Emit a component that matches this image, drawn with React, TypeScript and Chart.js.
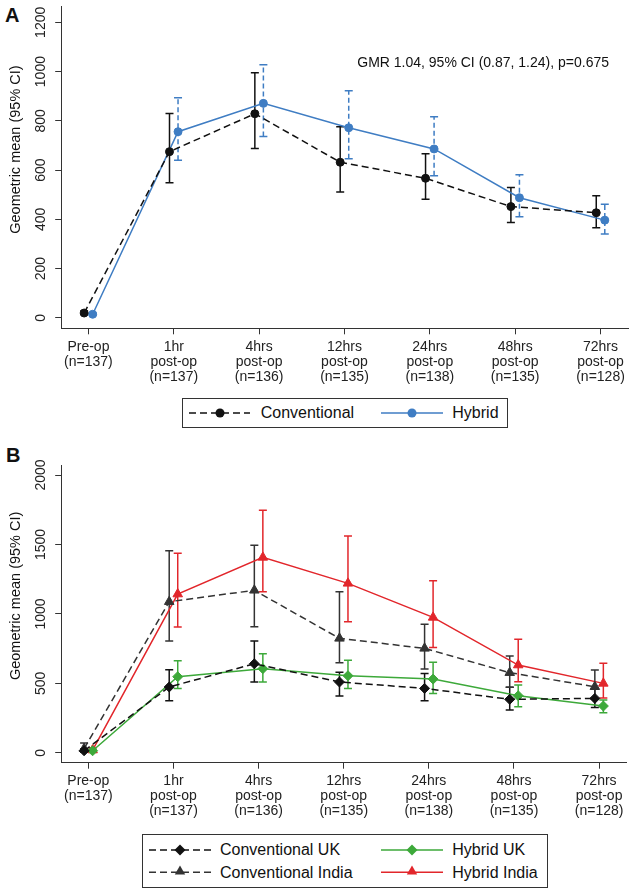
import React, { useEffect, useRef } from 'react';
import { Chart, registerables } from 'chart.js';

Chart.register(...registerables);

const FONT = '"Liberation Sans", Arial, Helvetica, sans-serif';

// time points (x axis)
const timeLabels = [
  ['Pre-op', '(n=137)'],
  ['1hr', 'post-op', '(n=137)'],
  ['4hrs', 'post-op', '(n=136)'],
  ['12hrs', 'post-op', '(n=135)'],
  ['24hrs', 'post-op', '(n=138)'],
  ['48hrs', 'post-op', '(n=135)'],
  ['72hrs', 'post-op', '(n=128)'],
];

const yTicksA = [0, 200, 400, 600, 800, 1000, 1200];
const yTicksB = [0, 500, 1000, 1500, 2000];

// panel A
const convMean = [20, 675, 829, 632, 567, 452, 427];
const convLow = [15, 549, 688, 511, 482, 387, 366];
const convHigh = [28, 830, 995, 776, 667, 530, 496];
const hybMean = [15, 756, 871, 772, 686, 488, 397];
const hybLow = [11, 640, 737, 646, 577, 411, 341];
const hybHigh = [20, 894, 1028, 922, 817, 581, 462];

// panel B
const convUkMean = [15, 474, 641, 510, 464, 385, 392];
const convUkLow = [5, 375, 510, 409, 375, 308, 327];
const convUkHigh = [30, 598, 805, 580, 572, 472, 460];
const convInMean = [30, 1088, 1170, 824, 752, 577, 476];
const convInLow = [5, 805, 908, 649, 603, 472, 385];
const convInHigh = [70, 1455, 1494, 1160, 925, 697, 596];
const hybUkMean = [15, 548, 606, 555, 531, 411, 337];
const hybUkLow = [8, 464, 510, 464, 428, 332, 289];
const hybUkHigh = [25, 663, 714, 666, 652, 488, 380];
const hybInMean = [20, 1143, 1407, 1220, 975, 632, 500];
const hybInLow = [10, 906, 1160, 944, 759, 512, 395];
const hybInHigh = [35, 1436, 1746, 1561, 1239, 817, 644];

const BLUE = '#3f7dc3';
const GREEN = '#3da93a';
const RED = '#e2262b';
const DARK = '#333333';

const errorBars = {
  id: 'errorBars',
  beforeDatasetsDraw(chart: any) {
    const { ctx } = chart;
    const y = chart.scales.y;
    chart.data.datasets.forEach((ds: any, di: number) => {
      if (!ds.errLo) return;
      const meta = chart.getDatasetMeta(di);
      ctx.save();
      ctx.strokeStyle = ds.borderColor;
      ctx.lineWidth = 1.5;
      meta.data.forEach((pt: any, i: number) => {
        const top = y.getPixelForValue(ds.errHi[i]);
        const bot = y.getPixelForValue(ds.errLo[i]);
        ctx.setLineDash(ds.errDash || []);
        ctx.beginPath();
        ctx.moveTo(pt.x, bot);
        ctx.lineTo(pt.x, top);
        ctx.stroke();
        ctx.setLineDash([]);
        ctx.beginPath();
        ctx.moveTo(pt.x - 4, top);
        ctx.lineTo(pt.x + 4, top);
        ctx.moveTo(pt.x - 4, bot);
        ctx.lineTo(pt.x + 4, bot);
        ctx.stroke();
      });
      ctx.restore();
    });
  },
};

const annotations = {
  id: 'annotations',
  afterDraw(chart: any, _args: any, opts: any) {
    const { ctx, chartArea } = chart;
    ctx.save();
    ctx.fillStyle = '#111';
    ctx.font = `14.5px ${FONT}`;
    ctx.textAlign = 'center';
    ctx.textBaseline = 'middle';
    ctx.translate(15.5, (chartArea.top + chartArea.bottom) / 2 - 18);
    ctx.rotate(-Math.PI / 2);
    ctx.fillText(opts.yTitle, 0, 0);
    ctx.restore();
    if (opts.note) {
      ctx.save();
      ctx.fillStyle = '#111';
      ctx.font = `14px ${FONT}`;
      ctx.textAlign = 'right';
      ctx.textBaseline = 'middle';
      ctx.fillText(opts.note, chartArea.right - 19, chartArea.top + 56);
      ctx.restore();
    }
  },
};

function series(
  label: string,
  mean: number[],
  lo: number[],
  hi: number[],
  shift: number,
  color: string,
  dashed: boolean,
  pointStyle: string,
  radius: number,
  errDash?: number[],
) {
  return {
    label,
    data: mean.map((v, i) => ({ x: i + shift, y: v })),
    errLo: lo,
    errHi: hi,
    errDash,
    borderColor: color,
    backgroundColor: color,
    borderWidth: 1.5,
    borderDash: dashed ? [7, 4] : [],
    pointStyle,
    pointRadius: radius,
    pointBorderWidth: 1,
    pointBorderColor: color,
    pointBackgroundColor: color,
    tension: 0,
  };
}

function makeOptions(yMin: number, yMax: number, yTicks: number[], xHeight: number, note?: string): any {
  return {
    animation: false,
    responsive: true,
    maintainAspectRatio: false,
    layout: { padding: { top: xHeight > 64 ? 25 : 6.7, right: 4, left: 0, bottom: 0 } },
    plugins: {
      legend: { display: false },
      tooltip: { enabled: false },
      annotations: { yTitle: 'Geometric mean (95% CI)', note },
    },
    scales: {
      x: {
        type: 'linear',
        min: -0.313,
        max: 6.322,
        afterBuildTicks: (s: any) => {
          s.ticks = timeLabels.map((_, i) => ({ value: i }));
        },
        afterFit: (s: any) => {
          s.height = xHeight;
        },
        ticks: {
          autoSkip: false,
          maxRotation: 0,
          padding: 5,
          color: '#222',
          font: { family: FONT, size: 14, lineHeight: 1.07 },
          callback: (v: number) => timeLabels[Math.round(v)] ?? '',
        },
        grid: { drawOnChartArea: false, drawTicks: true, tickLength: 6, color: '#333' },
        border: { display: true, color: '#333', width: 1 },
      },
      y: {
        type: 'linear',
        min: yMin,
        max: yMax,
        afterBuildTicks: (s: any) => {
          s.ticks = yTicks.map((v) => ({ value: v }));
        },
        afterFit: (s: any) => {
          s.width = 61.7;
        },
        ticks: {
          autoSkip: false,
          minRotation: 90,
          maxRotation: 90,
          crossAlign: 'center',
          padding: -1.6,
          color: '#222',
          font: { family: FONT, size: 14 },
          callback: (v: number) => String(v),
        },
        grid: { drawOnChartArea: false, drawTicks: true, tickLength: 6.5, color: '#333' },
        border: { display: true, color: '#333', width: 1 },
      },
    },
  };
}

function ChartCanvas({ build }: { build: () => any }) {
  const canvasRef = useRef<HTMLCanvasElement>(null);
  const chartRef = useRef<Chart | null>(null);

  useEffect(() => {
    if (!canvasRef.current) return;
    if (chartRef.current) chartRef.current.destroy();
    chartRef.current = new Chart(canvasRef.current, build());
    return () => chartRef.current?.destroy();
  }, [build]);

  return <canvas ref={canvasRef}></canvas>;
}

const buildA = () => ({
  type: 'line',
  data: {
    datasets: [
      series('Conventional', convMean, convLow, convHigh, -0.05, '#111', true, 'circle', 4),
      series('Hybrid', hybMean, hybLow, hybHigh, 0.05, BLUE, false, 'circle', 4, [5, 3]),
    ],
  },
  options: makeOptions(-42, 1263, yTicksA, 63.7, 'GMR 1.04, 95% CI (0.87, 1.24), p=0.675'),
  plugins: [errorBars, annotations],
});

const buildB = () => ({
  type: 'line',
  data: {
    datasets: [
      series('Conventional UK', convUkMean, convUkLow, convUkHigh, -0.05, '#111', true, 'rectRot', 5),
      series('Conventional India', convInMean, convInLow, convInHigh, -0.05, DARK, true, 'triangle', 5.5),
      series('Hybrid UK', hybUkMean, hybUkLow, hybUkHigh, 0.05, GREEN, false, 'rectRot', 5),
      series('Hybrid India', hybInMean, hybInLow, hybInHigh, 0.05, RED, false, 'triangle', 5.5),
    ],
  },
  options: makeOptions(-71, 2072, yTicksB, 65.3),
  plugins: [errorBars, annotations],
});

const abs = (left: number, top: number, extra: React.CSSProperties = {}): React.CSSProperties => ({
  position: 'absolute',
  left,
  top,
  ...extra,
});

const legendText = (left: number, top: number, text: string) => (
  <span style={abs(left, top, { fontSize: 16, lineHeight: '16px', whiteSpace: 'nowrap' })}>{text}</span>
);

const diamond = (cx: number, cy: number, r: number) =>
  `${cx},${cy - r} ${cx + r},${cy} ${cx},${cy + r} ${cx - r},${cy}`;
const triangle = (cx: number, cy: number, r: number) =>
  `${cx},${cy - r} ${cx + r * 0.866},${cy + r / 2} ${cx - r * 0.866},${cy + r / 2}`;

export default function App() {
  return (
    <div style={abs(0, 0, { width: 633, height: 892, background: '#fff', fontFamily: FONT, color: '#111' })}>
      <div style={abs(5, 5.4, { fontSize: 20, fontWeight: 'bold', lineHeight: '20px' })}>A</div>
      <div style={abs(0, 0, { width: 633, height: 392 })}>
        <ChartCanvas build={buildA} />
      </div>
      <div style={abs(182, 398, { width: 326, height: 30, border: '1px solid #333', boxSizing: 'border-box' })} />
      {legendText(260.7, 405, 'Conventional')}
      {legendText(452.3, 405, 'Hybrid')}

      <div style={abs(6, 445.4, { fontSize: 20, fontWeight: 'bold', lineHeight: '20px' })}>B</div>
      <div style={abs(0, 440, { width: 633, height: 388 })}>
        <ChartCanvas build={buildB} />
      </div>
      <div style={abs(142, 834, { width: 406, height: 54, border: '1px solid #333', boxSizing: 'border-box' })} />
      {legendText(220, 842.2, 'Conventional UK')}
      {legendText(452.3, 842.2, 'Hybrid UK')}
      {legendText(220, 864.5, 'Conventional India')}
      {legendText(452.3, 864.5, 'Hybrid India')}

      <svg width={633} height={892} style={abs(0, 0, { pointerEvents: 'none' })}>
        <line x1={189} y1={413} x2={250} y2={413} stroke="#111" strokeWidth={1.5} strokeDasharray="7 4" />
        <circle cx={220} cy={413} r={4.5} fill="#111" />
        <line x1={381} y1={413} x2={443} y2={413} stroke={BLUE} strokeWidth={1.5} />
        <circle cx={412} cy={413} r={4.5} fill={BLUE} />

        <line x1={149} y1={850} x2={211} y2={850} stroke="#111" strokeWidth={1.5} strokeDasharray="7 4" />
        <polygon points={diamond(180, 850, 5.5)} fill="#111" />
        <line x1={381} y1={850} x2={443} y2={850} stroke={GREEN} strokeWidth={1.5} />
        <polygon points={diamond(412, 850, 5.5)} fill={GREEN} />
        <line x1={149} y1={872.3} x2={211} y2={872.3} stroke={DARK} strokeWidth={1.5} strokeDasharray="7 4" />
        <polygon points={triangle(180, 871.5, 6)} fill={DARK} />
        <line x1={381} y1={872.3} x2={443} y2={872.3} stroke={RED} strokeWidth={1.5} />
        <polygon points={triangle(412, 871.5, 6)} fill={RED} />
      </svg>
    </div>
  );
}
